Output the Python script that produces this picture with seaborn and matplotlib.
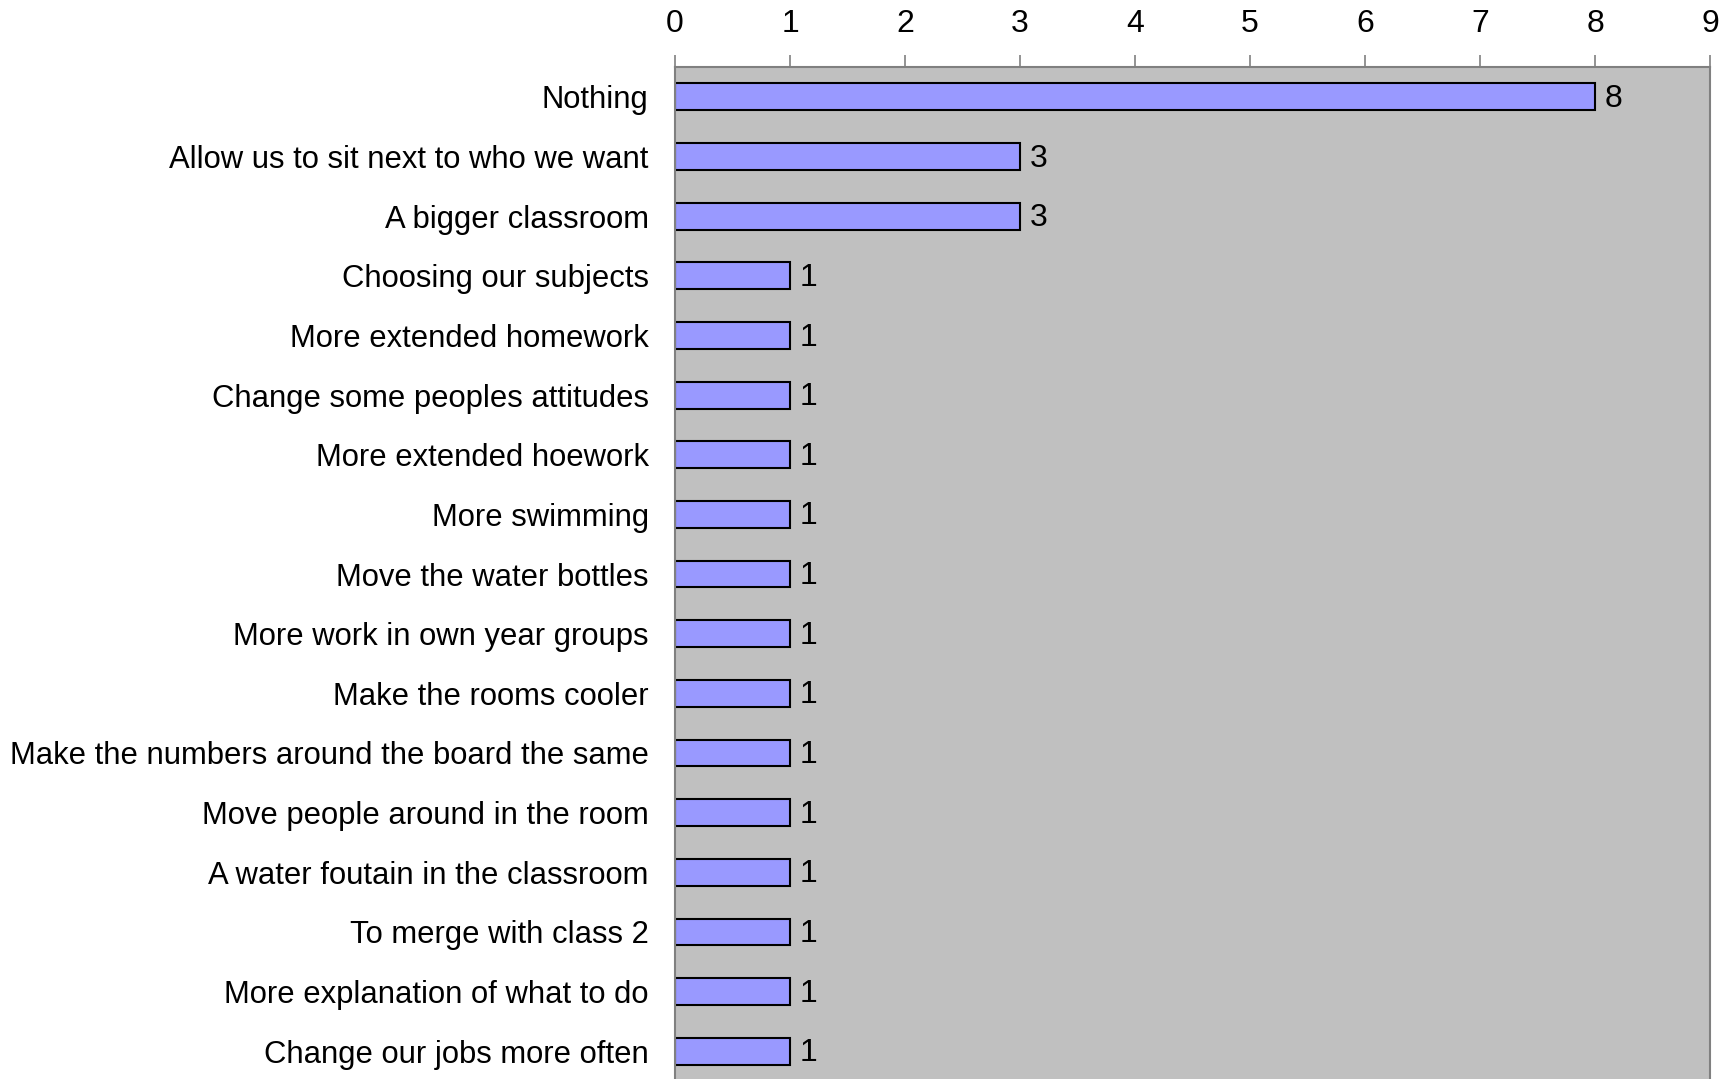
import pandas as pd
import numpy as np
import matplotlib.pyplot as plt
import seaborn as sns

answers = ["Nothing", "Allow us to sit next to who we want", "A bigger classroom",
           "Choosing our subjects", "More extended homework", "Change some peoples attitudes",
           "More extended hoework", "More swimming", "Move the water bottles",
           "More work in own year groups", "Make the rooms cooler",
           "Make the numbers around the board the same", "Move people around in the room",
           "A water foutain in the classroom", "To merge with class 2",
           "More explanation of what to do", "Change our jobs more often"]
counts = [8, 3, 3, 1, 1, 1, 1, 1, 1, 1, 1, 1, 1, 1, 1, 1, 1]
x_ticks = [0, 1, 2, 3, 4, 5, 6, 7, 8, 9]

df = pd.DataFrame({"Answer": answers, "Count": counts})

sns.set_style("white")
plt.rcParams['font.family'] = ['Liberation Sans', 'DejaVu Sans']
plt.rcParams['text.color'] = 'black'

fig = plt.figure(figsize=(17.34, 10.79), dpi=100)
ax = fig.add_axes([0.3893, -0.0019, 0.5969, 0.9398])
ax.set_facecolor("#C0C0C0")

sns.barplot(data=df, x="Count", y="Answer", orient="h", color="#9999FF",
            saturation=1, edgecolor="black", linewidth=1.5, width=0.45, ax=ax)

# value labels just right of each bar, nudged down a touch
for c in ax.containers:
    labels = ax.bar_label(c, padding=7, fontsize=23, color="black")
    for t in labels:
        t.xyann = (7, -1.5)

ax.set_xlim(0, 9)
ax.set_ylim(16.5, -0.5)
ax.set_xticks(x_ticks)
ax.xaxis.tick_top()
ax.tick_params(axis="x", top=True, bottom=False, direction="out", length=9,
               width=1.2, color="#808080", labelsize=23, labelcolor="black", pad=11)
ax.tick_params(axis="y", left=False, length=0, labelsize=22.3, labelcolor="black", pad=19)
ax.set_xlabel("")
ax.set_ylabel("")

for side in ["top", "left", "right"]:
    ax.spines[side].set_color("#808080")
    ax.spines[side].set_linewidth(1.5)
ax.spines["bottom"].set_visible(False)

fig.savefig("out.png", dpi=100)
